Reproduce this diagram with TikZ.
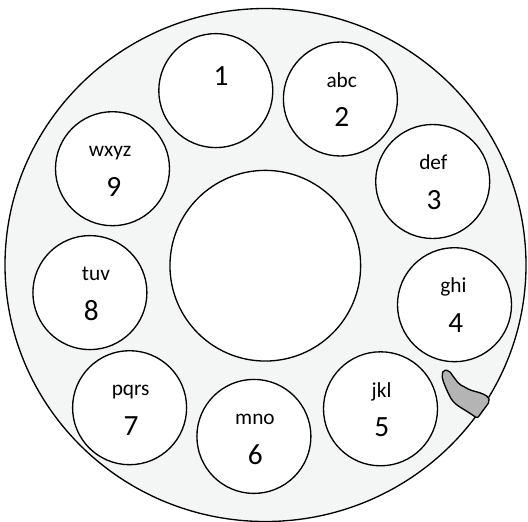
\documentclass[tikz,border=0pt]{standalone}
\usepackage{fontspec}
\setmainfont{Carlito}
\usepackage{tikz}
\usetikzlibrary{positioning}
\definecolor{dialface}{HTML}{F4F6F5}
\definecolor{stopgray}{HTML}{B4B4B4}
\tikzset{dial/.style={draw=black,fill=dialface,line width=1pt},
 hole/.style={circle,draw=black,fill=white,line width=1pt,
 minimum size=85.5pt,inner sep=0pt},
 hub/.style={hole,minimum size=143pt},
 letters/.style={inner sep=0pt,text=black,font=\fontsize{16}{18}\selectfont},
 digit/.style={inner sep=0pt,text=black,font=\fontsize{22}{24}\selectfont},
 fingerstop/.style={draw=black,fill=stopgray,line width=1pt,rounded corners=1.5pt}}
% #1 name, #2 #3 centre (px), #4 letters, #5 digit, #6 letter shift
\newcommand{\dialhole}[6]{%
 \node[hole] (#1) at (#2,#3) {};
 \node[letters,anchor=base,xshift=#6] (#1l) at ([yshift=8.8pt]#1.center) {#4};
 \node[digit,anchor=base,xshift=1pt] (#1d) at ([yshift=-20.8pt]#1.center) {#5};}

\begin{document}
\begin{tikzpicture}[x=0.75pt,y=-0.75pt]
 \clip (0,0) rectangle (528,521);
 \useasboundingbox (0,0) rectangle (528,521);
 % dial plate
 \draw[dial] (265.5,265) ellipse [x radius=260.5,y radius=256.5];
 \node[hub] (hub) at (265.3,265.7) {};
 % finger holes
 \node[hole] (h1) at (215.8,90.6) {};
 \node[digit,anchor=base,xshift=4pt] (h1d) at ([yshift=4.2pt]h1.center) {1};
 \dialhole{h2}{340.4}{99.0}{abc}{2}{1pt}
 \dialhole{h3}{432.7}{181.5}{def}{3}{0.5pt}
 \dialhole{h4}{454.5}{304.7}{ghi}{4}{-0.8pt}
 \dialhole{h5}{380.5}{408.8}{jkl}{5}{0.8pt}
 \dialhole{h6}{253.9}{436.4}{mno}{6}{0.8pt}
 \dialhole{h7}{129.6}{407.7}{pqrs}{7}{0.8pt}
 \dialhole{h8}{89.9}{292.6}{tuv}{8}{4.5pt}
 \dialhole{h9}{112.5}{168.7}{wxyz}{9}{-1.8pt}
 % finger stop
 \draw[fingerstop] (443.3,370) -- (449.3,370.7) -- (453.3,376.7)
  -- (459.3,384.3) -- (462.7,386) -- (470,390) -- (481.7,393.3)
  -- (488.3,396.7) -- (489.6,401.5) -- (477.3,418.3) -- (470,413.3)
  -- (456.7,405) -- (451.7,400) -- (446.7,390) -- (442.7,380)
  -- (442,375) -- cycle;
\end{tikzpicture}
\end{document}
